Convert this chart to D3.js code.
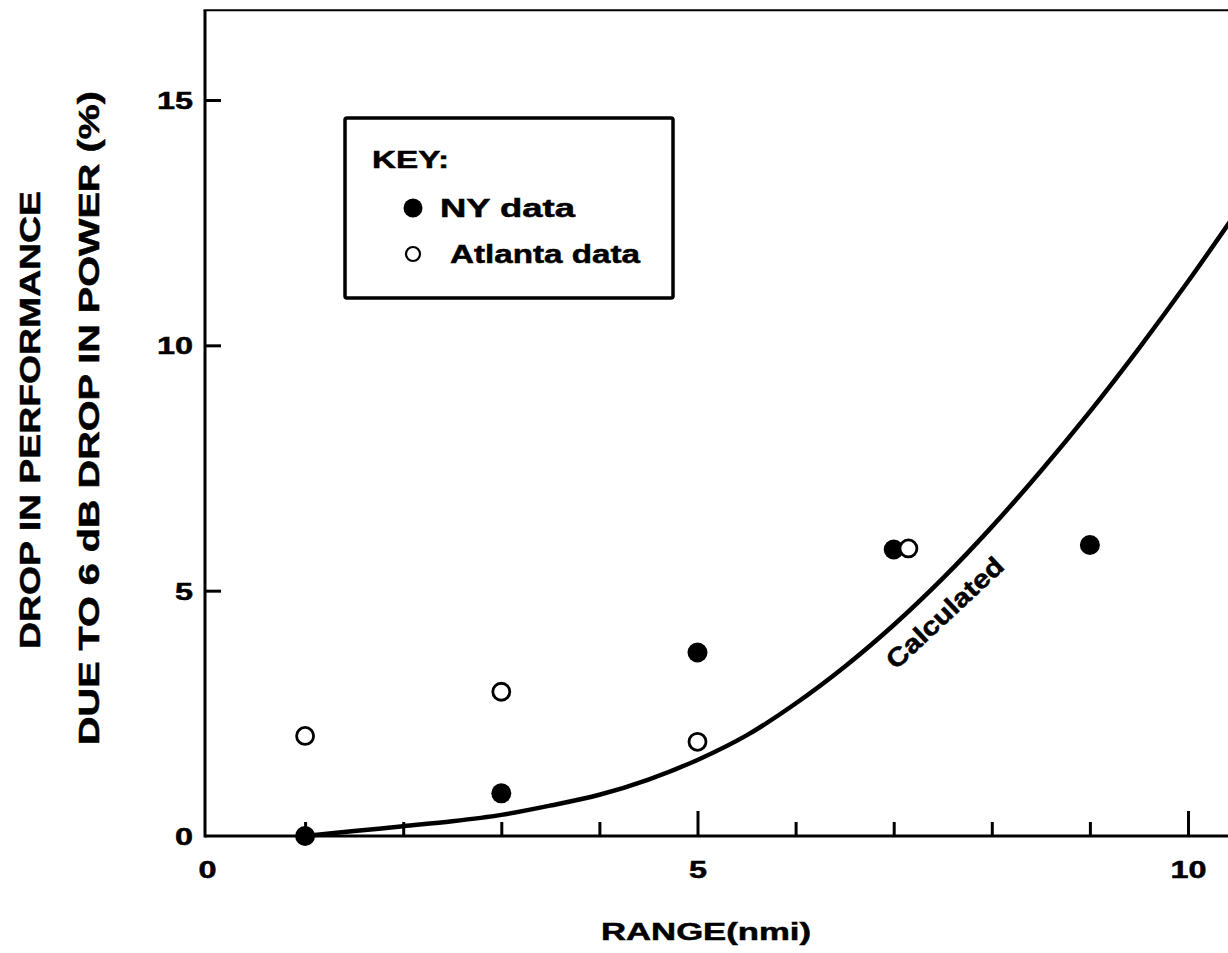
<!DOCTYPE html>
<html><head><meta charset="utf-8">
<script src="https://cdn.jsdelivr.net/npm/d3@7"></script>
<style>
body{margin:0;background:#fff}
svg{display:block}
text{font-family:"Liberation Sans",Arial,Helvetica,sans-serif;font-weight:bold;fill:#000;stroke:#000;stroke-width:0.5px}
</style>
</head><body>
<svg id="chart" width="1228" height="953"></svg>
<script>
// ---- data ----
const nyRange  = [1, 3, 5, 7, 9];
const nyDrop   = [0, 0.87, 3.74, 5.84, 5.93];
const atlRange = [1, 3, 5, 7.15];
const atlDrop  = [2.04, 2.94, 1.92, 5.86];
const calcRange = [1, 1.5, 2, 2.5, 3, 3.5, 4, 4.5, 5, 5.5, 6, 6.5, 7, 7.5, 8, 8.5, 9, 9.5, 10, 10.5];
const calcDrop  = [0, 0.1, 0.2, 0.3, 0.43, 0.62, 0.84, 1.15, 1.55, 2.05, 2.7, 3.45, 4.3, 5.25, 6.3, 7.44, 8.65, 9.94, 11.3, 12.73];
const xMajorTicks = [0, 5, 10];
const xMinorTicks = [1, 2, 3, 4, 6, 7, 8, 9];
const yTicks = [0, 5, 10, 15];
const xTitle = "RANGE(nmi)";
const yTitle1 = "DROP IN PERFORMANCE";
const yTitle2 = "DUE TO 6 dB DROP IN POWER (%)";
const legendTitle = "KEY:";
const legendNY = "NY data";
const legendAtl = "Atlanta data";
const curveLabel = "Calculated";

// ---- scales ----
const svg = d3.select("#chart");
const x = d3.scaleLinear().domain([0, 10]).range([207, 1188]);
const y = d3.scaleLinear().domain([0, 15]).range([836, 100]);
const xEnd = 10.6, yTop = 16.83;

function stretch(sel, f){
  sel.each(function(){ const L=this.getComputedTextLength(); d3.select(this).attr("textLength", L*f).attr("lengthAdjust","spacingAndGlyphs"); });
}

// frame lines
svg.append("line").attr("x1", x(0)-2).attr("x2", x(xEnd)).attr("y1", y(0)).attr("y2", y(0))
  .attr("stroke","#000").attr("stroke-width",3);
svg.append("line").attr("x1", x(0)-2).attr("x2", x(0)-2).attr("y1", y(0)+1.5).attr("y2", y(yTop))
  .attr("stroke","#000").attr("stroke-width",3);
svg.append("line").attr("x1", x(0)-3.5).attr("x2", x(xEnd)).attr("y1", y(yTop)).attr("y2", y(yTop))
  .attr("stroke","#000").attr("stroke-width",2);

// x axis major
const gxMaj = svg.append("g").attr("transform",`translate(0,${y(0)})`)
  .call(d3.axisBottom(x).tickValues(xMajorTicks).tickSizeInner(-25).tickSizeOuter(0).tickFormat(d3.format("d")));
gxMaj.select(".domain").remove();
gxMaj.selectAll(".tick line").attr("stroke","#000").attr("stroke-width",3);
gxMaj.selectAll(".tick").filter(d=>d===0).select("line").remove();
gxMaj.selectAll(".tick text").attr("y",42).attr("dy",0).attr("font-size",24).attr("fill","#000");
stretch(gxMaj.selectAll(".tick text"),1.35);

// x axis minor
const gxMin = svg.append("g").attr("transform",`translate(0,${y(0)})`)
  .call(d3.axisBottom(x).tickValues(xMinorTicks).tickSizeInner(-14).tickSizeOuter(0).tickFormat(""));
gxMin.select(".domain").remove();
gxMin.selectAll(".tick line").attr("stroke","#000").attr("stroke-width",3);

// y axis
const gy = svg.append("g").attr("transform",`translate(${x(0)-2},0)`)
  .call(d3.axisLeft(y).tickValues(yTicks).tickSizeInner(-16).tickSizeOuter(0).tickFormat(d3.format("d")));
gy.select(".domain").remove();
gy.selectAll(".tick line").attr("stroke","#000").attr("stroke-width",3);
gy.selectAll(".tick").filter(d=>d===0).select("line").remove();
gy.selectAll(".tick text").attr("x",-12).attr("dy","0.36em").attr("font-size",24).attr("fill","#000");
stretch(gy.selectAll(".tick text"),1.35);

// calculated curve
const line = d3.line().x(d=>x(d[0])).y(d=>y(d[1])).curve(d3.curveCatmullRom);
svg.append("path").datum(calcRange.map((r,i)=>[r,calcDrop[i]]))
  .attr("d",line).attr("fill","none").attr("stroke","#000").attr("stroke-width",4.5).attr("stroke-linecap","round");

svg.append("text").text(curveLabel)
  .attr("transform",`translate(${x(7.52)},${y(4.55)}) rotate(-43)`)
  .attr("text-anchor","middle").attr("dominant-baseline","central")
  .attr("font-size",26).attr("textLength",150).attr("lengthAdjust","spacingAndGlyphs");

// data points
svg.append("g").selectAll("circle").data(nyRange.map((r,i)=>[r,nyDrop[i]])).join("circle")
  .attr("cx",d=>x(d[0])).attr("cy",d=>y(d[1])).attr("r",10).attr("fill","#000");
svg.append("g").selectAll("circle").data(atlRange.map((r,i)=>[r,atlDrop[i]])).join("circle")
  .attr("cx",d=>x(d[0])).attr("cy",d=>y(d[1])).attr("r",8.5).attr("fill","#fff").attr("stroke","#000").attr("stroke-width",2.8);

// legend
const lg = svg.append("g");
lg.append("rect").attr("x",345).attr("y",118).attr("width",328).attr("height",180).attr("rx",2)
  .attr("fill","none").attr("stroke","#000").attr("stroke-width",3.5);
lg.append("text").text(legendTitle).attr("x",372).attr("y",168).attr("font-size",24)
  .attr("textLength",77).attr("lengthAdjust","spacingAndGlyphs");
lg.append("circle").attr("cx",413).attr("cy",208).attr("r",9.5).attr("fill","#000");
lg.append("text").text(legendNY).attr("x",440).attr("y",217).attr("font-size",25)
  .attr("textLength",135).attr("lengthAdjust","spacingAndGlyphs");
lg.append("circle").attr("cx",413).attr("cy",254).attr("r",7).attr("fill","#fff").attr("stroke","#000").attr("stroke-width",2.2);
lg.append("text").text(legendAtl).attr("x",450).attr("y",263).attr("font-size",25)
  .attr("textLength",190).attr("lengthAdjust","spacingAndGlyphs");

// axis titles
svg.append("text").text(xTitle).attr("x",706).attr("y",940).attr("text-anchor","middle")
  .attr("font-size",24).attr("textLength",210).attr("lengthAdjust","spacingAndGlyphs");
svg.append("text").text(yTitle1).attr("transform","translate(40,420) rotate(-90)").attr("text-anchor","middle")
  .attr("font-size",30).attr("textLength",458).attr("lengthAdjust","spacingAndGlyphs");
svg.append("text").text(yTitle2).attr("transform","translate(99,418) rotate(-90)").attr("text-anchor","middle")
  .attr("font-size",30).attr("textLength",654).attr("lengthAdjust","spacingAndGlyphs");
</script>
</body></html>
